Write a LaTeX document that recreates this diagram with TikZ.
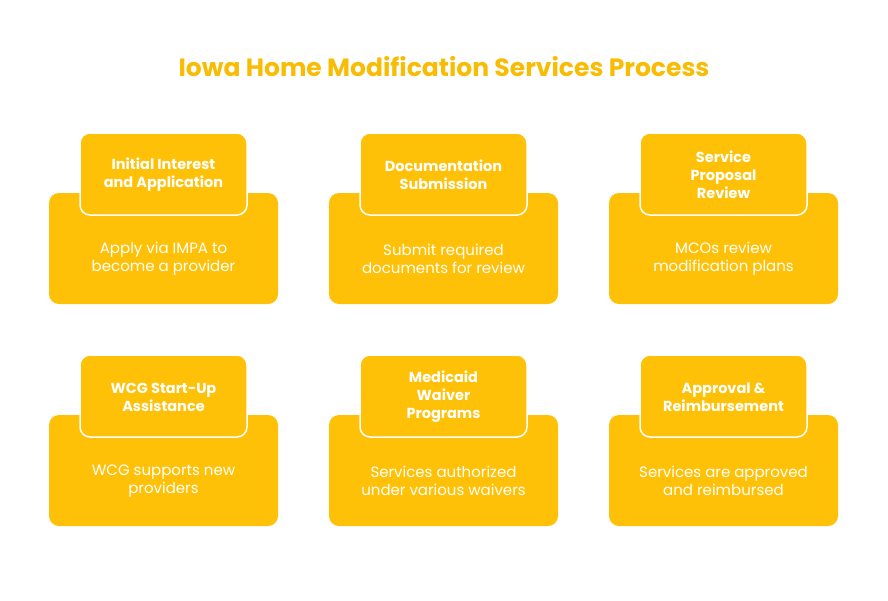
\documentclass[tikz,border=0pt]{standalone}
\usepackage{fontspec}
\setmainfont{Poppins}
\definecolor{gold}{HTML}{FFC107}
\definecolor{titlec}{HTML}{F9BC05}
\begin{document}
\begin{tikzpicture}[x=1pt,y=-1pt,
 big/.style={fill=gold,rounded corners=10pt},
 head/.style={fill=gold,draw=white,line width=1.5pt,rounded corners=10pt},
 ht/.style={text=white,font=\fontsize{14.5}{18}\selectfont\bfseries,align=center,inner sep=0pt},
 bt/.style={text=white,font=\fontsize{15}{18}\selectfont,align=center,inner sep=0pt}]
\useasboundingbox (0,0) rectangle (888,600);
\node[text=titlec,font=\fontsize{25}{28}\selectfont\bfseries] (title) at (444,67) {Iowa Home Modification Services Process};
\def\card#1#2#3#4#5{%
 \begin{scope}[shift={(#1,#2)}]
 \fill[big] (49,193) rectangle (278,304);
 \draw[head] (80,133) rectangle (247,215);
 \node[ht] (h#5) at (163.5,175) {#3};
 \node[bt] (b#5) at (163.5,259) {#4};
 \end{scope}}
\card{0}{0}{Initial Interest\\and Application}{Apply via IMPA to\\become a provider}{1}
\card{280}{0}{Documentation\\Submission}{Submit required\\documents for review}{2}
\card{560}{0}{Service\\Proposal\\Review}{MCOs review\\modification plans}{3}
\card{0}{222}{WCG Start-Up\\Assistance}{WCG supports new\\providers}{4}
\card{280}{222}{Medicaid\\Waiver\\Programs}{Services authorized\\under various waivers}{5}
\card{560}{222}{Approval \&\\Reimbursement}{Services are approved\\and reimbursed}{6}
\end{tikzpicture}
\end{document}
